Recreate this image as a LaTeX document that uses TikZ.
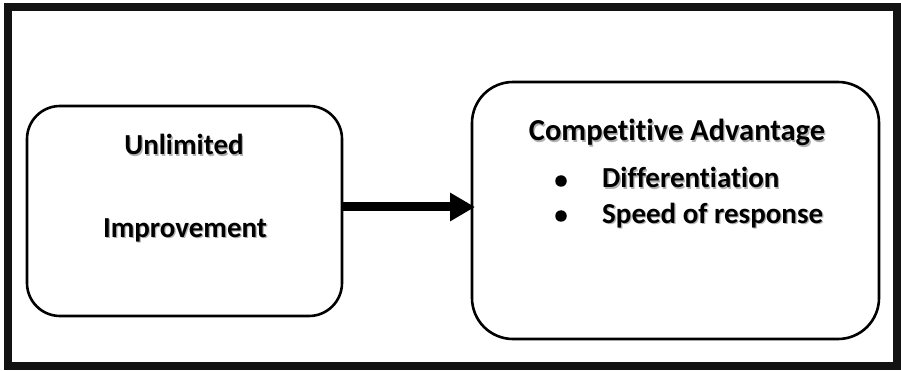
\documentclass[tikz,border=0pt]{standalone}
\usepackage{fontspec}
\setmainfont{Carlito}[Ligatures={NoCommon}]
\usetikzlibrary{arrows.meta}
\newcommand\shtxt[1]{\rlap{\raisebox{-1.3pt}{\hspace{1.3pt}\textcolor{black!30}{#1}}}#1}
\begin{document}
\begin{tikzpicture}[x=1pt,y=-1pt,
  frame/.style={line width=8pt,draw=black!93},
  box/.style={draw,line width=2.6pt,rounded corners=#1},
  lbl/.style={inner sep=0pt,anchor=base,font=\fontsize{29}{33}\selectfont\bfseries},
  head/.style={lbl,font=\fontsize{30.5}{34}\selectfont\bfseries},
  blt/.style={circle,fill=black,inner sep=0pt,minimum size=11.5pt},
  conn/.style={line width=9pt,-{Triangle[length=25pt,width=27pt]}}]
\useasboundingbox (0,0) rectangle (901,371);
\fill[white] (0,0) rectangle (901,371);
\draw[frame] (8,7) rectangle (897,366);
\draw[box=33pt] (27,106) rectangle (342,316);
\draw[box=41pt] (472,82) rectangle (879,339);
\coordinate (lb) at (342,207);
\coordinate (rb) at (475,207);
\draw[conn] (lb) -- (rb);
\node[lbl] (t1) at (184,155) {\shtxt{Unlimited}};
\node[lbl] (t2) at (185,237) {\shtxt{Improvement}};
\node[head] (t3) at (677,141) {\shtxt{Competitive Advantage}};
\node[lbl,anchor=base west] (t4) at (602,188) {\shtxt{Differentiation}};
\node[lbl,anchor=base west] (t5) at (602,223) {\shtxt{Speed of response}};
\node[blt] (b1) at (561,181) {};
\node[blt] (b2) at (561,216) {};
\end{tikzpicture}
\end{document}
